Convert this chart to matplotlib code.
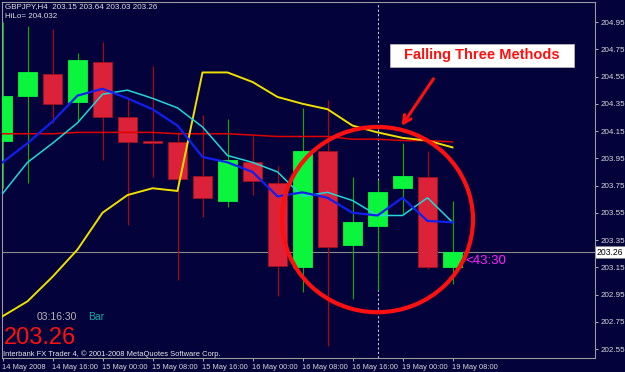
import matplotlib
matplotlib.use("Agg")
import matplotlib.pyplot as plt
from matplotlib.patches import Ellipse, Rectangle

plt.rcParams['font.family'] = ['Liberation Sans', 'DejaVu Sans']

# GBPJPY H4 candles
opens  = [204.08, 204.41, 204.57, 204.36, 204.66, 204.25, 204.08, 204.07, 203.82, 203.64,
          203.92, 203.77, 203.15, 204.00, 203.31, 203.45, 203.73, 203.81, 203.15]
highs  = [204.95, 204.92, 204.90, 204.72, 204.80, 204.39, 204.63, 204.14, 204.27, 204.24,
          204.11, 203.89, 204.32, 204.38, 203.81, 203.79, 204.06, 204.00, 203.64]
lows   = [203.73, 203.77, 204.21, 204.22, 203.94, 203.46, 203.81, 203.06, 203.52, 203.59,
          203.68, 202.94, 202.97, 202.57, 202.92, 202.98, 203.55, 203.14, 203.03]
closes = [204.41, 204.58, 204.35, 204.67, 204.25, 204.07, 204.06, 203.80, 203.66, 203.94,
          203.78, 203.16, 204.00, 203.30, 203.48, 203.70, 203.82, 203.15, 203.26]

# indicator lines
hilo  = [202.79, 202.90, 203.08, 203.28, 203.55, 203.68, 203.73, 203.71, 204.58, 204.58,
         204.51, 204.40, 204.35, 204.31, 204.19, 204.14, 204.10, 204.08, 204.03]
ma_blue = [203.92, 204.06, 204.22, 204.41, 204.46, 204.39, 204.31, 204.19, 203.96, 203.92,
           203.85, 203.67, 203.70, 203.66, 203.55, 203.53, 203.66, 203.49, 203.48]
ma_cyan = [203.69, 203.92, 204.06, 204.21, 204.42, 204.45, 204.39, 204.32, 204.18, 203.97,
           203.92, 203.85, 203.67, 203.70, 203.64, 203.53, 203.53, 203.66, 203.48]
ma_red = [204.13, 204.13, 204.13, 204.14, 204.14, 204.14, 204.14, 204.13, 204.13, 204.13,
          204.12, 204.11, 204.11, 204.11, 204.09, 204.09, 204.08, 204.08, 204.07]

time_labels = ['14 May 2008', '14 May 16:00', '15 May 00:00', '15 May 08:00', '15 May 16:00',
               '16 May 00:00', '16 May 08:00', '16 May 16:00', '19 May 00:00', '19 May 08:00']
price_ticks = [202.55, 202.75, 202.95, 203.15, 203.35, 203.55, 203.75, 203.95,
               204.15, 204.35, 204.55, 204.75, 204.95]
last_price = 203.26

bg = '#03023A'
W, H = 625, 372
fig = plt.figure(figsize=(W / 100, H / 100), dpi=100, facecolor=bg)
ax = fig.add_axes([2 / W, (H - 358) / H, 593 / W, 356 / H], facecolor=bg)

n = len(opens)
xs = list(range(n))

# candles
for i in xs:
    o, h, l, c = opens[i], highs[i], lows[i], closes[i]
    up = c >= o
    wick = '#00B400' if up else '#B80010'
    ax.vlines(i, l, h, color=wick, lw=0.8, zorder=2)
    body_col = '#0AF53C' if up else '#DC2238'
    edge = '#0AF53C' if up else '#A01020'
    height = max(abs(c - o), 0.012)
    ax.bar(i, height, bottom=min(o, c), width=0.76, color=body_col,
           edgecolor=edge, linewidth=0.6, zorder=3)

# bid line and time cursor
ax.axhline(last_price, color='#8A8A8A', lw=0.8, zorder=1)
ax.axvline(15, color='#C8C8C8', lw=0.8, ls=(0, (2, 2)), zorder=1)

# indicators
ax.plot(xs, ma_red, color='#E00000', lw=1.1, zorder=4)
ax.plot(xs, hilo, color='#F0E000', lw=1.4, zorder=4)
ax.plot(xs, ma_cyan, color='#20D8D8', lw=1.1, zorder=5)
ax.plot(xs, ma_blue, color='#1020F0', lw=1.6, zorder=5)

# annotation: circle + arrow
ax.add_patch(Ellipse((15.0, 203.50), 7.64, 1.36, fill=False, edgecolor='#FF1010',
                     lw=3.0, zorder=6))
ax.annotate('', xy=(15.9, 204.17), xytext=(17.3, 204.55),
            arrowprops=dict(arrowstyle='->', color='#FF1010', lw=2.2,
                            mutation_scale=14), zorder=6)

ax.set_xlim(-0.02, 23.7)
ax.set_ylim(202.484, 205.097)

# axes styling
for s in ax.spines.values():
    s.set_color('#9A9A9A')
    s.set_linewidth(0.8)
ax.yaxis.tick_right()
ax.set_yticks(price_ticks)
ax.set_yticklabels(['%.2f' % v for v in price_ticks])
ax.set_xticks(xs[::2])
ax.set_xticklabels(time_labels, ha='left')
ax.tick_params(axis='both', colors='#B0B0B0', labelcolor='#D8D8D8',
               labelsize=5.8, length=2.5, width=0.7, direction='out', pad=1.5)
ax.tick_params(axis='x', pad=2, labelsize=5.4)

# current price marker on the price scale
ax.text(1.003, last_price, '%.2f' % last_price, transform=ax.get_yaxis_transform(),
        ha='left', va='center', fontsize=6.2, color='black',
        bbox=dict(boxstyle='square,pad=0.2', fc='white', ec='#808080', lw=0.5))

ax.text(18.5, last_price - 0.065, '<43:30', color='#FF20FF', fontsize=9.5,
        ha='left', va='center', zorder=7)


def px(x, y):
    return x / W, 1 - y / H


fig.text(*px(5, 7), 'GBPJPY,H4  203.15 203.64 203.03 203.26', color='#E0E0E0',
         fontsize=5.8, va='center', ha='left')
fig.text(*px(5, 16), 'HiLo= 204.032', color='#E0E0E0', fontsize=5.8, va='center', ha='left')

fig.patches.append(Rectangle(px(390, 67), 184 / W, 23 / H, transform=fig.transFigure,
                             fc='white', ec='#C0C0C0', lw=0.5, zorder=8))
fig.text(*px(482, 55.5), 'Falling Three Methods', color='#FF1010', fontsize=10.5,
         fontweight='bold', ha='center', va='center', zorder=9)

fig.text(*px(37, 317), '03:16:30', color='#B4B4B4', fontsize=7.5, va='center', ha='left')
fig.text(*px(88, 317), 'Bar', color='#10A8A8', fontsize=7.5, va='center', ha='left')
fig.text(*px(4, 344), '203.26', color='#FF1010', fontsize=17, va='baseline', ha='left')
fig.text(*px(3, 354), 'Interbank FX Trader 4, \u00a9 2001-2008 MetaQuotes Software Corp.',
         color='#E8E8E8', fontsize=5.4, va='center', ha='left')

fig.savefig('out.png', dpi=100, facecolor=bg)
